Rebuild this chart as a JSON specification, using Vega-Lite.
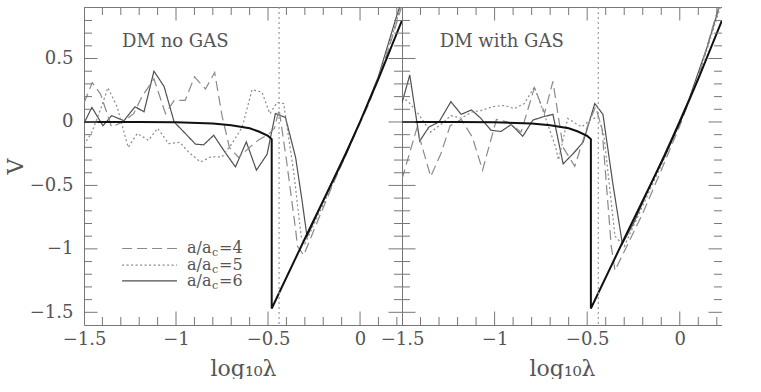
{
  "$schema": "https://vega.github.io/schema/vega-lite/v6.json",
  "background": "white",
  "padding": {"left": 4, "top": 6, "right": 0, "bottom": 0},
  "bounds": "flush",
  "spacing": 0,
  "config": {
    "view": {"stroke": null},
    "axis": {
      "grid": false,
      "ticks": false,
      "labelFont": "DejaVu Serif",
      "labelFontSize": 18,
      "labelColor": "#555",
      "titleFont": "DejaVu Serif",
      "titleFontSize": 22,
      "titleFontWeight": "normal",
      "titleColor": "#555",
      "domainColor": "#777",
      "labelFlush": false,
      "labelOverlap": false
    }
  },
  "datasets": {
    "series": [
      {"panel": "L", "s": "6", "x": -1.5, "y": -0.01},
      {"panel": "L", "s": "6", "x": -1.457, "y": 0.115},
      {"panel": "L", "s": "6", "x": -1.397, "y": -0.03},
      {"panel": "L", "s": "6", "x": -1.35, "y": 0.05},
      {"panel": "L", "s": "6", "x": -1.283, "y": 0.01},
      {"panel": "L", "s": "6", "x": -1.223, "y": 0.12},
      {"panel": "L", "s": "6", "x": -1.174, "y": 0.08},
      {"panel": "L", "s": "6", "x": -1.12, "y": 0.4},
      {"panel": "L", "s": "6", "x": -1.065, "y": 0.28},
      {"panel": "L", "s": "6", "x": -1.01, "y": 0.0},
      {"panel": "L", "s": "6", "x": -0.95, "y": -0.09},
      {"panel": "L", "s": "6", "x": -0.894, "y": -0.175},
      {"panel": "L", "s": "6", "x": -0.85, "y": -0.18},
      {"panel": "L", "s": "6", "x": -0.795, "y": -0.105},
      {"panel": "L", "s": "6", "x": -0.735, "y": -0.236},
      {"panel": "L", "s": "6", "x": -0.677, "y": -0.354},
      {"panel": "L", "s": "6", "x": -0.618, "y": -0.157},
      {"panel": "L", "s": "6", "x": -0.563, "y": -0.38},
      {"panel": "L", "s": "6", "x": -0.505, "y": -0.254},
      {"panel": "L", "s": "6", "x": -0.46, "y": 0.066},
      {"panel": "L", "s": "6", "x": -0.405, "y": 0.035},
      {"panel": "L", "s": "6", "x": -0.35, "y": -0.28},
      {"panel": "L", "s": "6", "x": -0.315, "y": -0.62},
      {"panel": "L", "s": "6", "x": -0.288, "y": -0.905},
      {"panel": "L", "s": "6", "x": -0.2, "y": -0.62},
      {"panel": "L", "s": "6", "x": -0.1, "y": -0.31},
      {"panel": "L", "s": "6", "x": 0.0, "y": 0.0},
      {"panel": "L", "s": "6", "x": 0.1, "y": 0.36},
      {"panel": "L", "s": "6", "x": 0.2, "y": 0.84},
      {"panel": "L", "s": "6", "x": 0.228, "y": 0.96},

      {"panel": "L", "s": "4", "x": -1.5, "y": 0.15},
      {"panel": "L", "s": "4", "x": -1.455, "y": 0.31},
      {"panel": "L", "s": "4", "x": -1.41, "y": 0.22},
      {"panel": "L", "s": "4", "x": -1.35, "y": -0.04},
      {"panel": "L", "s": "4", "x": -1.29, "y": 0.0},
      {"panel": "L", "s": "4", "x": -1.23, "y": 0.065},
      {"panel": "L", "s": "4", "x": -1.185, "y": 0.2},
      {"panel": "L", "s": "4", "x": -1.12, "y": 0.34},
      {"panel": "L", "s": "4", "x": -1.057, "y": 0.065},
      {"panel": "L", "s": "4", "x": -1.01, "y": 0.17},
      {"panel": "L", "s": "4", "x": -0.95, "y": 0.17},
      {"panel": "L", "s": "4", "x": -0.9, "y": 0.355},
      {"panel": "L", "s": "4", "x": -0.84, "y": 0.26},
      {"panel": "L", "s": "4", "x": -0.79, "y": 0.39},
      {"panel": "L", "s": "4", "x": -0.75, "y": 0.05},
      {"panel": "L", "s": "4", "x": -0.71, "y": -0.2},
      {"panel": "L", "s": "4", "x": -0.66, "y": -0.28},
      {"panel": "L", "s": "4", "x": -0.6, "y": -0.2},
      {"panel": "L", "s": "4", "x": -0.55, "y": -0.14},
      {"panel": "L", "s": "4", "x": -0.5, "y": -0.1},
      {"panel": "L", "s": "4", "x": -0.465, "y": -0.05},
      {"panel": "L", "s": "4", "x": -0.44, "y": 0.1},
      {"panel": "L", "s": "4", "x": -0.4, "y": -0.3},
      {"panel": "L", "s": "4", "x": -0.35, "y": -0.85},
      {"panel": "L", "s": "4", "x": -0.34, "y": -0.98},
      {"panel": "L", "s": "4", "x": -0.306, "y": -1.05},
      {"panel": "L", "s": "4", "x": -0.25, "y": -0.85},
      {"panel": "L", "s": "4", "x": -0.15, "y": -0.5},
      {"panel": "L", "s": "4", "x": -0.05, "y": -0.17},
      {"panel": "L", "s": "4", "x": 0.05, "y": 0.15},
      {"panel": "L", "s": "4", "x": 0.15, "y": 0.55},
      {"panel": "L", "s": "4", "x": 0.228, "y": 0.92},

      {"panel": "L", "s": "5", "x": -1.5, "y": -0.18},
      {"panel": "L", "s": "5", "x": -1.457, "y": -0.08},
      {"panel": "L", "s": "5", "x": -1.41, "y": 0.1},
      {"panel": "L", "s": "5", "x": -1.37, "y": 0.27},
      {"panel": "L", "s": "5", "x": -1.32, "y": 0.12},
      {"panel": "L", "s": "5", "x": -1.26, "y": -0.2},
      {"panel": "L", "s": "5", "x": -1.21, "y": -0.09},
      {"panel": "L", "s": "5", "x": -1.15, "y": -0.145},
      {"panel": "L", "s": "5", "x": -1.1, "y": -0.05},
      {"panel": "L", "s": "5", "x": -1.04, "y": -0.17},
      {"panel": "L", "s": "5", "x": -0.98, "y": -0.16},
      {"panel": "L", "s": "5", "x": -0.93, "y": -0.24},
      {"panel": "L", "s": "5", "x": -0.867, "y": -0.315},
      {"panel": "L", "s": "5", "x": -0.81, "y": -0.275},
      {"panel": "L", "s": "5", "x": -0.75, "y": -0.275},
      {"panel": "L", "s": "5", "x": -0.696, "y": -0.17},
      {"panel": "L", "s": "5", "x": -0.64, "y": -0.04},
      {"panel": "L", "s": "5", "x": -0.587, "y": 0.255},
      {"panel": "L", "s": "5", "x": -0.533, "y": 0.235},
      {"panel": "L", "s": "5", "x": -0.49, "y": 0.065},
      {"panel": "L", "s": "5", "x": -0.45, "y": 0.155},
      {"panel": "L", "s": "5", "x": -0.415, "y": 0.145},
      {"panel": "L", "s": "5", "x": -0.36, "y": -0.4},
      {"panel": "L", "s": "5", "x": -0.32, "y": -0.9},
      {"panel": "L", "s": "5", "x": -0.3, "y": -0.96},
      {"panel": "L", "s": "5", "x": -0.2, "y": -0.65},
      {"panel": "L", "s": "5", "x": -0.1, "y": -0.33},
      {"panel": "L", "s": "5", "x": 0.0, "y": 0.0},
      {"panel": "L", "s": "5", "x": 0.1, "y": 0.35},
      {"panel": "L", "s": "5", "x": 0.2, "y": 0.8},
      {"panel": "L", "s": "5", "x": 0.228, "y": 0.95},

      {"panel": "R", "s": "6", "x": -1.5, "y": 0.15},
      {"panel": "R", "s": "6", "x": -1.458, "y": 0.37},
      {"panel": "R", "s": "6", "x": -1.404, "y": -0.15},
      {"panel": "R", "s": "6", "x": -1.355, "y": -0.04},
      {"panel": "R", "s": "6", "x": -1.3, "y": 0.0},
      {"panel": "R", "s": "6", "x": -1.236, "y": 0.16},
      {"panel": "R", "s": "6", "x": -1.18, "y": 0.06},
      {"panel": "R", "s": "6", "x": -1.125, "y": 0.095},
      {"panel": "R", "s": "6", "x": -1.075, "y": 0.03},
      {"panel": "R", "s": "6", "x": -1.02, "y": -0.065},
      {"panel": "R", "s": "6", "x": -0.966, "y": -0.075},
      {"panel": "R", "s": "6", "x": -0.91, "y": -0.02},
      {"panel": "R", "s": "6", "x": -0.848, "y": -0.113},
      {"panel": "R", "s": "6", "x": -0.793, "y": 0.015},
      {"panel": "R", "s": "6", "x": -0.74, "y": 0.04},
      {"panel": "R", "s": "6", "x": -0.685, "y": 0.06},
      {"panel": "R", "s": "6", "x": -0.63, "y": -0.33},
      {"panel": "R", "s": "6", "x": -0.576, "y": -0.25},
      {"panel": "R", "s": "6", "x": -0.522, "y": -0.16},
      {"panel": "R", "s": "6", "x": -0.459, "y": 0.145},
      {"panel": "R", "s": "6", "x": -0.415, "y": 0.06},
      {"panel": "R", "s": "6", "x": -0.36, "y": -0.5},
      {"panel": "R", "s": "6", "x": -0.31, "y": -0.96},
      {"panel": "R", "s": "6", "x": -0.25, "y": -0.8},
      {"panel": "R", "s": "6", "x": -0.15, "y": -0.47},
      {"panel": "R", "s": "6", "x": -0.05, "y": -0.15},
      {"panel": "R", "s": "6", "x": 0.05, "y": 0.18},
      {"panel": "R", "s": "6", "x": 0.15, "y": 0.6},
      {"panel": "R", "s": "6", "x": 0.228, "y": 0.98},

      {"panel": "R", "s": "4", "x": -1.5, "y": -0.45},
      {"panel": "R", "s": "4", "x": -1.46, "y": -0.25},
      {"panel": "R", "s": "4", "x": -1.42, "y": -0.05},
      {"panel": "R", "s": "4", "x": -1.345, "y": -0.43},
      {"panel": "R", "s": "4", "x": -1.29, "y": -0.25},
      {"panel": "R", "s": "4", "x": -1.24, "y": -0.03},
      {"panel": "R", "s": "4", "x": -1.18, "y": 0.02},
      {"panel": "R", "s": "4", "x": -1.12, "y": -0.12},
      {"panel": "R", "s": "4", "x": -1.065, "y": -0.38},
      {"panel": "R", "s": "4", "x": -0.99, "y": 0.02},
      {"panel": "R", "s": "4", "x": -0.93, "y": 0.0},
      {"panel": "R", "s": "4", "x": -0.857, "y": -0.08},
      {"panel": "R", "s": "4", "x": -0.785, "y": 0.27},
      {"panel": "R", "s": "4", "x": -0.73, "y": 0.07},
      {"panel": "R", "s": "4", "x": -0.685, "y": 0.32},
      {"panel": "R", "s": "4", "x": -0.63, "y": -0.2},
      {"panel": "R", "s": "4", "x": -0.567, "y": -0.35},
      {"panel": "R", "s": "4", "x": -0.5, "y": -0.04},
      {"panel": "R", "s": "4", "x": -0.455, "y": 0.12},
      {"panel": "R", "s": "4", "x": -0.42, "y": -0.05},
      {"panel": "R", "s": "4", "x": -0.37, "y": -0.98},
      {"panel": "R", "s": "4", "x": -0.35, "y": -1.17},
      {"panel": "R", "s": "4", "x": -0.3, "y": -1.02},
      {"panel": "R", "s": "4", "x": -0.2, "y": -0.72},
      {"panel": "R", "s": "4", "x": -0.1, "y": -0.38},
      {"panel": "R", "s": "4", "x": 0.0, "y": -0.03},
      {"panel": "R", "s": "4", "x": 0.1, "y": 0.36},
      {"panel": "R", "s": "4", "x": 0.2, "y": 0.86},
      {"panel": "R", "s": "4", "x": 0.228, "y": 0.97},

      {"panel": "R", "s": "5", "x": -1.5, "y": 0.2},
      {"panel": "R", "s": "5", "x": -1.46, "y": 0.15},
      {"panel": "R", "s": "5", "x": -1.415, "y": 0.07},
      {"panel": "R", "s": "5", "x": -1.345, "y": -0.08},
      {"panel": "R", "s": "5", "x": -1.29, "y": -0.02},
      {"panel": "R", "s": "5", "x": -1.236, "y": 0.05},
      {"panel": "R", "s": "5", "x": -1.18, "y": 0.03},
      {"panel": "R", "s": "5", "x": -1.12, "y": 0.08},
      {"panel": "R", "s": "5", "x": -1.075, "y": 0.09},
      {"panel": "R", "s": "5", "x": -1.01, "y": 0.12},
      {"panel": "R", "s": "5", "x": -0.948, "y": 0.13},
      {"panel": "R", "s": "5", "x": -0.893, "y": 0.105},
      {"panel": "R", "s": "5", "x": -0.84, "y": 0.145},
      {"panel": "R", "s": "5", "x": -0.785, "y": 0.275},
      {"panel": "R", "s": "5", "x": -0.73, "y": 0.053},
      {"panel": "R", "s": "5", "x": -0.67, "y": -0.2},
      {"panel": "R", "s": "5", "x": -0.655, "y": -0.3},
      {"panel": "R", "s": "5", "x": -0.605, "y": 0.027},
      {"panel": "R", "s": "5", "x": -0.53, "y": -0.04},
      {"panel": "R", "s": "5", "x": -0.48, "y": 0.02},
      {"panel": "R", "s": "5", "x": -0.44, "y": 0.04},
      {"panel": "R", "s": "5", "x": -0.41, "y": -0.1},
      {"panel": "R", "s": "5", "x": -0.35, "y": -0.9},
      {"panel": "R", "s": "5", "x": -0.3, "y": -0.98},
      {"panel": "R", "s": "5", "x": -0.2, "y": -0.66},
      {"panel": "R", "s": "5", "x": -0.1, "y": -0.34},
      {"panel": "R", "s": "5", "x": 0.0, "y": -0.01},
      {"panel": "R", "s": "5", "x": 0.1, "y": 0.35},
      {"panel": "R", "s": "5", "x": 0.2, "y": 0.82},
      {"panel": "R", "s": "5", "x": 0.228, "y": 0.94}
    ],
    "theory": [
      {"k": 1, "x": -1.5, "y": 0.0},
      {"k": 2, "x": -1.2, "y": 0.0},
      {"k": 3, "x": -1.0, "y": -0.003},
      {"k": 4, "x": -0.8, "y": -0.012},
      {"k": 5, "x": -0.7, "y": -0.025},
      {"k": 6, "x": -0.6, "y": -0.05},
      {"k": 7, "x": -0.55, "y": -0.075},
      {"k": 8, "x": -0.5, "y": -0.11},
      {"k": 9, "x": -0.48, "y": -0.135},
      {"k": 10, "x": -0.48, "y": -1.47},
      {"k": 11, "x": -0.3, "y": -0.92},
      {"k": 12, "x": -0.17, "y": -0.53},
      {"k": 13, "x": -0.08, "y": -0.26},
      {"k": 14, "x": 0.0, "y": 0.0},
      {"k": 15, "x": 0.1, "y": 0.34},
      {"k": 16, "x": 0.228, "y": 0.8}
    ],
    "legend": [
      {"s": "4", "ly": -0.997, "eq": "=4"},
      {"s": "5", "ly": -1.128, "eq": "=5"},
      {"s": "6", "ly": -1.252, "eq": "=6"}
    ],
    "marker": [{"vx": -0.44}],
    "xticks": [
      {"tv": -1.5, "kind": "major"}, {"tv": -1.4, "kind": "minor"}, {"tv": -1.3, "kind": "minor"}, {"tv": -1.2, "kind": "minor"}, {"tv": -1.1, "kind": "minor"},
      {"tv": -1.0, "kind": "major"}, {"tv": -0.9, "kind": "minor"}, {"tv": -0.8, "kind": "minor"}, {"tv": -0.7, "kind": "minor"}, {"tv": -0.6, "kind": "minor"},
      {"tv": -0.5, "kind": "major"}, {"tv": -0.4, "kind": "minor"}, {"tv": -0.3, "kind": "minor"}, {"tv": -0.2, "kind": "minor"}, {"tv": -0.1, "kind": "minor"},
      {"tv": 0.0, "kind": "major"}, {"tv": 0.1, "kind": "minor"}, {"tv": 0.2, "kind": "minor"}
    ],
    "yticks": [
      {"tv": -1.5, "kind": "major"}, {"tv": -1.4, "kind": "minor"}, {"tv": -1.3, "kind": "minor"}, {"tv": -1.2, "kind": "minor"}, {"tv": -1.1, "kind": "minor"},
      {"tv": -1.0, "kind": "major"}, {"tv": -0.9, "kind": "minor"}, {"tv": -0.8, "kind": "minor"}, {"tv": -0.7, "kind": "minor"}, {"tv": -0.6, "kind": "minor"},
      {"tv": -0.5, "kind": "major"}, {"tv": -0.4, "kind": "minor"}, {"tv": -0.3, "kind": "minor"}, {"tv": -0.2, "kind": "minor"}, {"tv": -0.1, "kind": "minor"},
      {"tv": 0.0, "kind": "major"}, {"tv": 0.1, "kind": "minor"}, {"tv": 0.2, "kind": "minor"}, {"tv": 0.3, "kind": "minor"}, {"tv": 0.4, "kind": "minor"},
      {"tv": 0.5, "kind": "major"}, {"tv": 0.6, "kind": "minor"}, {"tv": 0.7, "kind": "minor"}, {"tv": 0.8, "kind": "minor"}
    ]
  },
  "hconcat": [
    {
      "width": 318,
      "height": 318,
      "resolve": {"axis": {"x": "independent", "y": "independent"}},
      "layer": [
        {
          "data": {"name": "series"},
          "transform": [{"filter": "datum.panel === 'L'"}],
          "mark": {"type": "line", "clip": true, "strokeWidth": 1.2},
          "encoding": {
            "x": {"field": "x", "type": "quantitative", "scale": {"domain": [-1.5, 0.228], "nice": false, "zero": false},
              "axis": {"orient": "bottom", "values": [-1.5, -1, -0.5, 0], "labelPadding": 5, "labelExpr": "replace(format(datum.value, '~g'), '-', '−')", "title": "log₁₀λ", "titlePadding": 10}},
            "y": {"field": "y", "type": "quantitative", "scale": {"domain": [-1.6, 0.906], "nice": false, "zero": false},
              "axis": {"orient": "left", "values": [-1.5, -1, -0.5, 0, 0.5], "labelPadding": 11, "labelExpr": "replace(format(datum.value, '~g'), '-', '−')", "title": "V", "titleX": -57, "titleAngle": 270, "titleBaseline": "bottom", "titleAlign": "center"}},
            "detail": {"field": "s"},
            "color": {"field": "s", "type": "nominal", "scale": {"domain": ["4", "5", "6"], "range": ["#8a8a8a", "#8a8a8a", "#505050"]}, "legend": null},
            "strokeDash": {"field": "s", "type": "nominal", "scale": {"domain": ["4", "5", "6"], "range": [[10, 5], [2, 2.5], [1, 0]]}, "legend": null}
          }
        },
        {
          "data": {"name": "theory"},
          "mark": {"type": "line", "clip": true, "strokeWidth": 2, "color": "#111"},
          "encoding": {
            "x": {"field": "x", "type": "quantitative", "axis": null},
            "y": {"field": "y", "type": "quantitative", "axis": null},
            "order": {"field": "k"}
          }
        },
        {
          "data": {"name": "marker"},
          "mark": {"type": "rule", "color": "#999", "strokeDash": [2, 3], "strokeWidth": 1.2},
          "encoding": {
            "x": {"field": "vx", "type": "quantitative", "axis": null}
          }
        },
        {
          "data": {"values": [{"label": "DM no GAS", "tx": -1.293, "ty": 0.59}]},
          "mark": {"type": "text", "align": "left", "baseline": "alphabetic", "font": "DejaVu Serif", "fontSize": 18, "color": "#555"},
          "encoding": {
            "x": {"field": "tx", "type": "quantitative", "axis": null},
            "y": {"field": "ty", "type": "quantitative", "axis": null},
            "text": {"field": "label"}
          }
        },
        {
          "data": {"name": "xticks"},
          "mark": {"type": "tick", "orient": "vertical", "clip": true, "color": "#777", "thickness": 1, "opacity": 1},
          "encoding": {
            "x": {"field": "tv", "type": "quantitative", "axis": {"orient": "top", "labels": false, "domain": true, "title": null}},
            "y": {"datum": -1.6, "type": "quantitative", "axis": null},
            "size": {"field": "kind", "type": "nominal", "scale": {"domain": ["major", "minor"], "range": [27, 16]}, "legend": null}
          }
        },
        {
          "data": {"name": "xticks"},
          "mark": {"type": "tick", "orient": "vertical", "clip": true, "color": "#777", "thickness": 1, "opacity": 1},
          "encoding": {
            "x": {"field": "tv", "type": "quantitative", "axis": null},
            "y": {"datum": 0.906, "type": "quantitative", "axis": null},
            "size": {"field": "kind", "type": "nominal", "legend": null}
          }
        },
        {
          "data": {"name": "yticks"},
          "mark": {"type": "tick", "orient": "horizontal", "clip": true, "color": "#777", "thickness": 1, "opacity": 1},
          "encoding": {
            "y": {"field": "tv", "type": "quantitative", "axis": {"orient": "right", "labels": false, "domain": true, "title": null}},
            "x": {"datum": -1.5, "type": "quantitative", "axis": null},
            "size": {"field": "kind", "type": "nominal", "legend": null}
          }
        },
        {
          "data": {"name": "yticks"},
          "mark": {"type": "tick", "orient": "horizontal", "clip": true, "color": "#777", "thickness": 1, "opacity": 1},
          "encoding": {
            "y": {"field": "tv", "type": "quantitative", "axis": null},
            "x": {"datum": 0.228, "type": "quantitative", "axis": null},
            "size": {"field": "kind", "type": "nominal", "legend": null}
          }
        },
        {
          "data": {"name": "legend"},
          "mark": {"type": "rule", "strokeWidth": 1.2},
          "encoding": {
            "x": {"datum": -1.293, "type": "quantitative", "axis": null},
            "x2": {"datum": -0.995},
            "y": {"field": "ly", "type": "quantitative", "axis": null},
            "color": {"field": "s", "type": "nominal", "legend": null},
            "strokeDash": {"field": "s", "type": "nominal", "legend": null}
          }
        },
        {
          "data": {"name": "legend"},
          "mark": {"type": "text", "align": "left", "baseline": "middle", "font": "DejaVu Serif", "fontSize": 16, "color": "#555", "text": "a/a"},
          "encoding": {
            "x": {"datum": -0.94, "type": "quantitative", "axis": null},
            "y": {"field": "ly", "type": "quantitative", "axis": null}
          }
        },
        {
          "data": {"name": "legend"},
          "mark": {"type": "text", "align": "left", "baseline": "middle", "font": "DejaVu Serif", "fontSize": 11, "color": "#555", "text": "c", "dx": 25, "dy": 5},
          "encoding": {
            "x": {"datum": -0.94, "type": "quantitative", "axis": null},
            "y": {"field": "ly", "type": "quantitative", "axis": null}
          }
        },
        {
          "data": {"name": "legend"},
          "mark": {"type": "text", "align": "left", "baseline": "middle", "font": "DejaVu Serif", "fontSize": 16, "color": "#555", "dx": 32},
          "encoding": {
            "x": {"datum": -0.94, "type": "quantitative", "axis": null},
            "y": {"field": "ly", "type": "quantitative", "axis": null},
            "text": {"field": "eq"}
          }
        }
      ]
    },
    {
      "width": 320,
      "height": 318,
      "resolve": {"axis": {"x": "independent", "y": "independent"}},
      "layer": [
        {
          "data": {"name": "series"},
          "transform": [{"filter": "datum.panel === 'R'"}],
          "mark": {"type": "line", "clip": true, "strokeWidth": 1.2},
          "encoding": {
            "x": {"field": "x", "type": "quantitative", "scale": {"domain": [-1.5, 0.228], "nice": false, "zero": false},
              "axis": {"orient": "bottom", "values": [-1.5, -1, -0.5, 0], "labelPadding": 5, "labelExpr": "replace(format(datum.value, '~g'), '-', '−')", "title": "log₁₀λ", "titlePadding": 10}},
            "y": {"field": "y", "type": "quantitative", "scale": {"domain": [-1.6, 0.906], "nice": false, "zero": false},
              "axis": {"orient": "left", "values": [-1.5, -1, -0.5, 0, 0.5], "labels": false, "domain": true, "title": null}},
            "detail": {"field": "s"},
            "color": {"field": "s", "type": "nominal", "scale": {"domain": ["4", "5", "6"], "range": ["#8a8a8a", "#8a8a8a", "#505050"]}, "legend": null},
            "strokeDash": {"field": "s", "type": "nominal", "scale": {"domain": ["4", "5", "6"], "range": [[10, 5], [2, 2.5], [1, 0]]}, "legend": null}
          }
        },
        {
          "data": {"name": "theory"},
          "mark": {"type": "line", "clip": true, "strokeWidth": 2, "color": "#111"},
          "encoding": {
            "x": {"field": "x", "type": "quantitative", "axis": null},
            "y": {"field": "y", "type": "quantitative", "axis": null},
            "order": {"field": "k"}
          }
        },
        {
          "data": {"name": "marker"},
          "mark": {"type": "rule", "color": "#999", "strokeDash": [2, 3], "strokeWidth": 1.2},
          "encoding": {
            "x": {"field": "vx", "type": "quantitative", "axis": null}
          }
        },
        {
          "data": {"values": [{"label": "DM with GAS", "tx": -1.296, "ty": 0.59}]},
          "mark": {"type": "text", "align": "left", "baseline": "alphabetic", "font": "DejaVu Serif", "fontSize": 18, "color": "#555"},
          "encoding": {
            "x": {"field": "tx", "type": "quantitative", "axis": null},
            "y": {"field": "ty", "type": "quantitative", "axis": null},
            "text": {"field": "label"}
          }
        },
        {
          "data": {"name": "xticks"},
          "mark": {"type": "tick", "orient": "vertical", "clip": true, "color": "#777", "thickness": 1, "opacity": 1},
          "encoding": {
            "x": {"field": "tv", "type": "quantitative", "axis": {"orient": "top", "labels": false, "domain": true, "title": null}},
            "y": {"datum": -1.6, "type": "quantitative", "axis": null},
            "size": {"field": "kind", "type": "nominal", "scale": {"domain": ["major", "minor"], "range": [27, 16]}, "legend": null}
          }
        },
        {
          "data": {"name": "xticks"},
          "mark": {"type": "tick", "orient": "vertical", "clip": true, "color": "#777", "thickness": 1, "opacity": 1},
          "encoding": {
            "x": {"field": "tv", "type": "quantitative", "axis": null},
            "y": {"datum": 0.906, "type": "quantitative", "axis": null},
            "size": {"field": "kind", "type": "nominal", "legend": null}
          }
        },
        {
          "data": {"name": "yticks"},
          "mark": {"type": "tick", "orient": "horizontal", "clip": true, "color": "#777", "thickness": 1, "opacity": 1},
          "encoding": {
            "y": {"field": "tv", "type": "quantitative", "axis": {"orient": "right", "labels": false, "domain": true, "title": null}},
            "x": {"datum": -1.5, "type": "quantitative", "axis": null},
            "size": {"field": "kind", "type": "nominal", "legend": null}
          }
        },
        {
          "data": {"name": "yticks"},
          "mark": {"type": "tick", "orient": "horizontal", "clip": true, "color": "#777", "thickness": 1, "opacity": 1},
          "encoding": {
            "y": {"field": "tv", "type": "quantitative", "axis": null},
            "x": {"datum": 0.228, "type": "quantitative", "axis": null},
            "size": {"field": "kind", "type": "nominal", "legend": null}
          }
        }
      ]
    }
  ]
}
